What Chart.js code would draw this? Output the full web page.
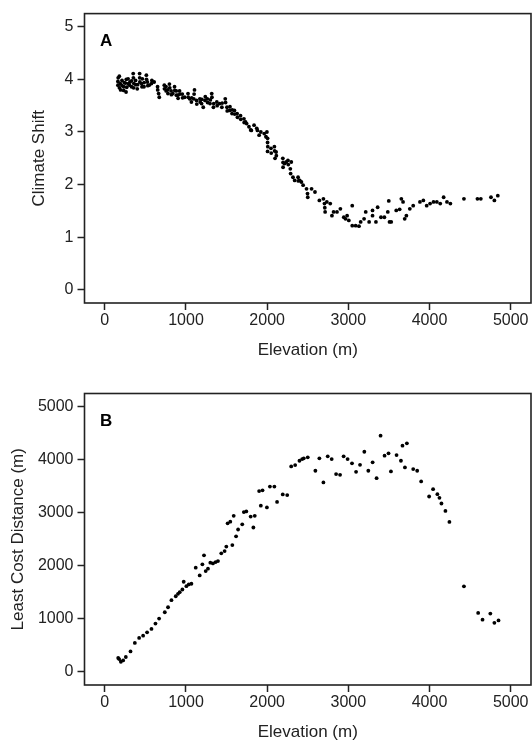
<!DOCTYPE html>
<html>
<head>
<meta charset="utf-8">
<script src="https://cdn.jsdelivr.net/npm/chart.js@4"></script>
<style>
  html, body { margin: 0; background: #fff; overflow: hidden; }
  #wrapA { position: absolute; left: 0; top: 0; width: 545px; height: 370px; }
  #wrapB { position: absolute; left: 0; top: 370px; width: 545px; height: 380px; }
</style>
</head>
<body>
<div id="wrapA"><canvas id="chartA" width="545" height="370"></canvas></div>
<div id="wrapB"><canvas id="chartB" width="545" height="380"></canvas></div>
<script>
// axis ticks
const elevTicks = [0, 1000, 2000, 3000, 4000, 5000];
const shiftTicks = [0, 1, 2, 3, 4, 5];
const costTicks = [0, 1000, 2000, 3000, 4000, 5000];

// panel A: elevation (m) vs climate shift
const elevA = [162, 162, 165, 179, 180, 191, 195, 212, 212, 233, 233, 240, 254, 262, 265, 270, 287, 290, 304, 310,
  329, 330, 350, 352, 355, 358, 379, 382, 400, 405, 429, 430, 432, 454, 458, 462, 483, 485, 512, 514,
  525, 530, 546, 575, 580, 608, 650, 652, 663, 671, 733, 735, 754, 756, 775, 778, 796, 800, 817, 820,
  838, 859, 862, 880, 882, 900, 903, 921, 925, 955, 958, 984, 1025, 1028, 1046, 1067, 1070, 1096, 1100, 1105,
  1130, 1133, 1171, 1175, 1192, 1195, 1213, 1234, 1238, 1263, 1266, 1296, 1300, 1317, 1320, 1338, 1342, 1380, 1384, 1414,
  1442, 1446, 1484, 1488, 1505, 1508, 1538, 1542, 1567, 1570, 1597, 1600, 1630, 1634, 1672, 1675, 1714, 1717, 1734, 1747,
  1776, 1797, 1805, 1839, 1872, 1880, 1901, 1922, 1964, 1985, 1997, 2005, 2005, 2005, 2008, 2047, 2050, 2089, 2092, 2097,
  2110, 2113, 2193, 2196, 2196, 2214, 2235, 2256, 2260, 2285, 2289, 2297, 2318, 2339, 2381, 2384, 2402, 2422, 2443, 2485,
  2497, 2500, 2547, 2589, 2643, 2693, 2706, 2710, 2714, 2735, 2777, 2798, 2818, 2860, 2902, 2944, 2965, 2985, 3006, 3048,
  3048, 3090, 3131, 3152, 3194, 3214, 3256, 3298, 3298, 3340, 3361, 3402, 3444, 3486, 3498, 3507, 3528, 3590, 3632, 3653,
  3674, 3694, 3715, 3757, 3799, 3882, 3924, 3965, 4007, 4049, 4090, 4132, 4174, 4215, 4257, 4424, 4590, 4632, 4757, 4799,
  4841];
const shiftA = [3.89, 3.96, 4.03, 4.06, 3.84, 3.92, 3.80, 3.98, 3.88, 3.86, 3.79, 3.94, 3.93, 3.76, 4.00, 3.85, 4.01, 3.92, 3.89, 3.95,
  3.86, 3.97, 4.11, 4.03, 3.84, 3.92, 3.98, 3.90, 3.82, 3.90, 4.11, 4.03, 3.95, 3.92, 3.86, 4.01, 3.86, 3.94, 4.08, 4.00,
  3.95, 3.88, 3.89, 3.92, 3.98, 3.95, 3.86, 3.80, 3.73, 3.66, 3.89, 3.82, 3.86, 3.78, 3.80, 3.73, 3.91, 3.84, 3.78, 3.71,
  3.73, 3.86, 3.79, 3.78, 3.70, 3.70, 3.64, 3.78, 3.72, 3.72, 3.65, 3.66, 3.73, 3.66, 3.63, 3.57, 3.65, 3.63, 3.72, 3.80,
  3.60, 3.53, 3.63, 3.57, 3.54, 3.62, 3.47, 3.60, 3.67, 3.63, 3.56, 3.54, 3.61, 3.73, 3.66, 3.47, 3.54, 3.57, 3.50, 3.54,
  3.47, 3.55, 3.63, 3.56, 3.47, 3.40, 3.41, 3.48, 3.35, 3.42, 3.41, 3.34, 3.35, 3.28, 3.31, 3.24, 3.25, 3.18, 3.19, 3.16,
  3.10, 3.04, 3.03, 3.13, 3.07, 3.03, 2.94, 3.00, 2.97, 2.91, 3.00, 2.88, 2.80, 2.63, 2.72, 2.69, 2.60, 2.72, 2.64, 2.50,
  2.62, 2.55, 2.50, 2.42, 2.33, 2.40, 2.43, 2.46, 2.38, 2.30, 2.21, 2.43, 2.14, 2.08, 2.14, 2.07, 2.08, 2.05, 1.99, 1.92,
  1.83, 1.76, 1.92, 1.86, 1.70, 1.73, 1.64, 1.56, 1.48, 1.67, 1.64, 1.41, 1.48, 1.48, 1.54, 1.38, 1.35, 1.41, 1.32, 1.60,
  1.22, 1.22, 1.21, 1.29, 1.35, 1.48, 1.29, 1.41, 1.51, 1.29, 1.57, 1.38, 1.38, 1.48, 1.69, 1.29, 1.29, 1.51, 1.53, 1.73,
  1.67, 1.35, 1.41, 1.54, 1.60, 1.67, 1.70, 1.60, 1.64, 1.67, 1.67, 1.64, 1.76, 1.67, 1.64, 1.73, 1.73, 1.73, 1.76, 1.70,
  1.79];

// panel B: elevation (m) vs least cost distance (m)
const elevB = [165, 177, 198, 226, 259, 317, 370, 423, 472, 521, 575, 624, 669, 739, 779, 821, 874, 902, 923, 956,
  972, 1005, 1034, 1067, 1120, 1169, 1202, 1222, 1243, 1271, 1300, 1332, 1365, 1394, 1435, 1476, 1497, 1513, 1546, 1571,
  1588, 1617, 1642, 1693, 1713, 1743, 1797, 1830, 1847, 1901, 1922, 1943, 1997, 2034, 2089, 2122, 2192, 2247, 2296, 2345,
  2398, 2431, 2451, 2500, 2594, 2643, 2693, 2746, 2795, 2849, 2898, 2942, 2991, 3045, 3095, 3144, 3197, 3246, 3299, 3348,
  3397, 3446, 3495, 3525, 3594, 3648, 3667, 3697, 3721, 3799, 3848, 3897, 3995, 4044, 4097, 4122, 4147, 4196, 4245, 4424,
  4599, 4653, 4749, 4799, 4850];
const costB = [259, 240, 189, 214, 278, 384, 543, 638, 681, 744, 808, 909, 1003, 1123, 1217, 1350, 1425, 1471, 1501, 1552,
  1698, 1615, 1647, 1660, 1963, 1817, 2026, 2196, 1899, 1944, 2058, 2044, 2069, 2088, 2234, 2277, 2361, 2800, 2832, 2391,
  2942, 2556, 2684, 2781, 3012, 3025, 2928, 2722, 2942, 3409, 3133, 3423, 3101, 3493, 3493, 3205, 3345, 3334, 3875, 3900,
  3981, 4013, 4026, 4045, 3792, 4026, 3572, 4064, 4013, 3729, 3716, 4064, 4013, 3932, 3773, 3905, 4151, 3792, 3951, 3653,
  4454, 4076, 4121, 3780, 4089, 3981, 4265, 3856, 4310, 3824, 3792, 3591, 3307, 3445, 3351, 3281, 3175, 3034, 2826, 1611,
  1109, 982, 1098, 924, 969];

const FONT = "'Liberation Sans', Arial, sans-serif";

// frame round the plot area + panel letter
const framePlugin = {
  id: 'frame',
  afterDraw(chart, args, opts) {
    const { ctx, chartArea: a } = chart;
    ctx.save();
    ctx.strokeStyle = '#222';
    ctx.lineWidth = 1.6;
    ctx.strokeRect(a.left, a.top, a.right - a.left, a.bottom - a.top);
    ctx.fillStyle = '#000';
    ctx.font = 'bold 17px ' + FONT;
    ctx.textBaseline = 'alphabetic';
    ctx.fillText(opts.letter, a.left + 15.5, a.top + 32);
    ctx.restore();
  }
};

function makeChart(id, xs, ys, yTicks, yMin, yMax, yTitle, opt) {
  const pts = xs.map((x, i) => ({ x: x, y: ys[i] }));
  return new Chart(document.getElementById(id), {
    type: 'scatter',
    data: {
      datasets: [{
        data: pts,
        backgroundColor: '#000',
        borderWidth: 0,
        pointRadius: 1.9
      }]
    },
    options: {
      responsive: false,
      animation: false,
      events: [],
      layout: { padding: { top: opt.top, right: 14, left: 0, bottom: 0 } },
      plugins: {
        legend: { display: false },
        tooltip: { enabled: false },
        frame: { letter: opt.letter }
      },
      scales: {
        x: {
          type: 'linear',
          min: -250,
          max: 5250,
          afterBuildTicks: (s) => { s.ticks = elevTicks.map(v => ({ value: v })); },
          afterFit: (s) => { s.height = opt.xh; },
          grid: { drawOnChartArea: false, tickLength: 7, color: '#222', tickWidth: 1.5 },
          border: { display: false },
          ticks: { color: '#222', padding: 1, font: { family: FONT, size: 16 }, maxRotation: 0,
            callback: (v) => String(v) },
          title: {
            display: true, text: 'Elevation (m)', color: '#222',
            font: { family: FONT, size: 17 }, padding: { top: 0, bottom: opt.xtp }
          }
        },
        y: {
          type: 'linear',
          min: yMin,
          max: yMax,
          afterBuildTicks: (s) => { s.ticks = yTicks.map(v => ({ value: v })); },
          afterFit: (s) => { s.width = 84.5; },
          grid: { drawOnChartArea: false, tickLength: 7, color: '#222', tickWidth: 1.5 },
          border: { display: false },
          ticks: { color: '#222', padding: 4, font: { family: FONT, size: 16 },
            callback: (v) => String(v) },
          title: {
            display: true, text: yTitle, color: '#222',
            font: { family: FONT, size: 17 }, padding: { top: opt.ytp, bottom: 0 }
          }
        }
      }
    },
    plugins: [framePlugin]
  });
}

makeChart('chartA', elevA, shiftA, shiftTicks, -0.25, 5.25, 'Climate Shift',
  { top: 8.5, xh: 67, xtp: 9, ytp: 29, letter: 'A' });
makeChart('chartB', elevB, costB, costTicks, -250, 5250, 'Least Cost Distance (m)',
  { top: 23.5, xh: 65, xtp: 7, ytp: 8.5, letter: 'B' });
</script>
</body>
</html>
